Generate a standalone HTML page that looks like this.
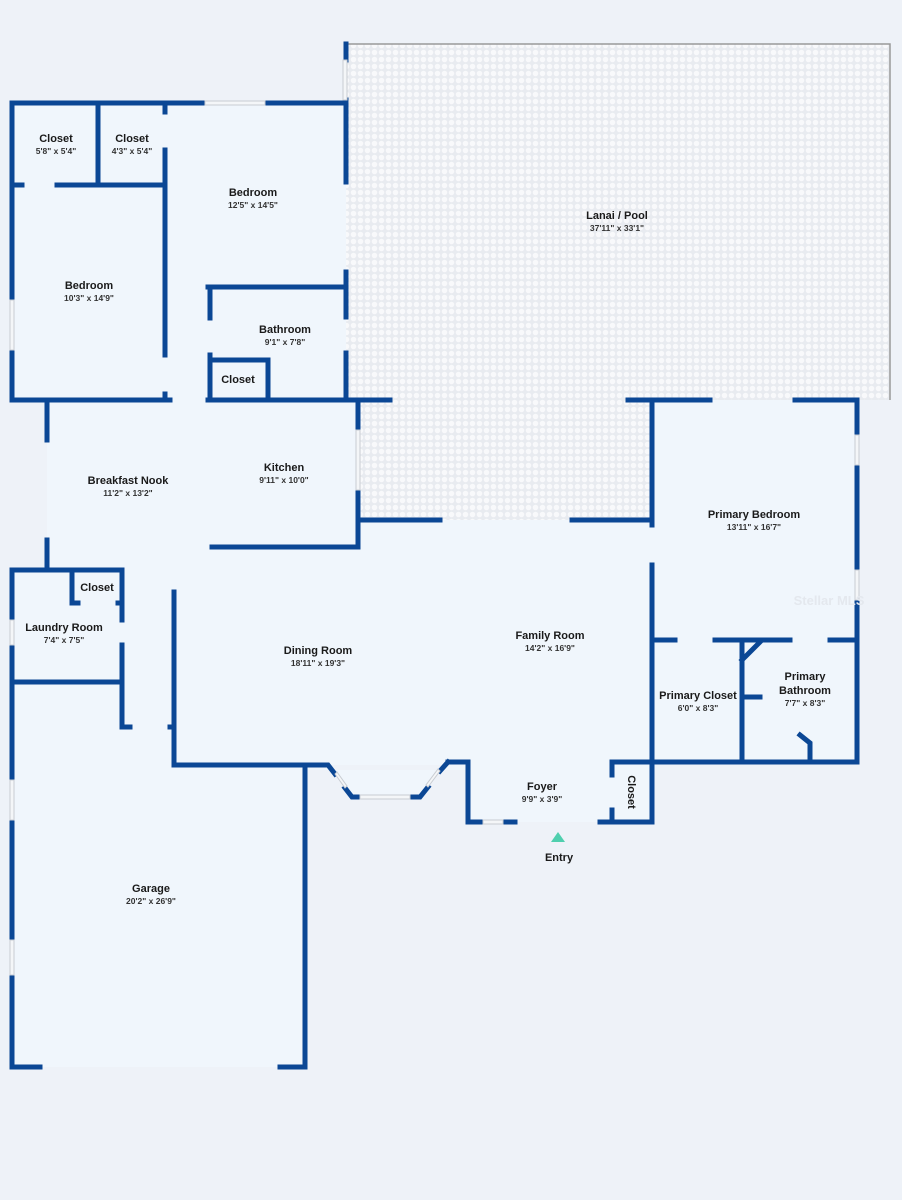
<!DOCTYPE html>
<html><head><meta charset="utf-8"><style>
html,body{margin:0;padding:0;background:#eef2f8;}
svg{display:block}
text{font-family:"Liberation Sans",sans-serif;fill:#1a1a1a;text-anchor:middle}
.t{font-size:11px;font-weight:bold}
.d{font-size:8.5px;font-weight:bold;fill:#333}
</style></head><body>
<svg width="902" height="1200" viewBox="0 0 902 1200" xmlns="http://www.w3.org/2000/svg">
<defs>
<pattern id="tile" width="7" height="7" patternUnits="userSpaceOnUse">
<rect width="7" height="7" fill="#e8ebf0"/>
<circle cx="3.5" cy="3.5" r="2.8" fill="#f8f9fb"/>
</pattern>
</defs>
<rect width="902" height="1200" fill="#eef2f8"/>
<path d="M346 44 H890 V400 H652 V520 H358 V400 H346 Z" fill="url(#tile)"/>
<path d="M346 44 H890 V400" fill="none" stroke="#999" stroke-width="1.5"/>
<g fill="#f0f6fc">
<rect x="12" y="103" width="334" height="297"/>
<rect x="47" y="400" width="311" height="170"/>
<rect x="12" y="570" width="162" height="110"/>
<rect x="174" y="520" width="478" height="245"/>
<rect x="122" y="570" width="60" height="160"/>
<rect x="12" y="680" width="293" height="387"/>
<rect x="652" y="400" width="205" height="362"/>
<rect x="470" y="760" width="185" height="62"/>
<polygon points="305,765 328,765 352,798 420,798 448,762 470,762 470,770 305,770"/>
</g>
<g stroke="#0b4795" stroke-width="5" fill="none" stroke-linecap="square">
<path d="M12 103 H205 M265 103 H346"/>
<path d="M12 103 V300 M12 350 V400"/>
<path d="M12 400 H170 M208 400 H390"/>
<path d="M98 103 V185"/>
<path d="M12 185 H22 M57 185 H165"/>
<path d="M165 103 V112 M165 150 V355 M165 394 V400"/>
<path d="M208 287 H346 M210 287 V318 M210 355 V400"/>
<path d="M210 360 H268 V400"/>
<path d="M346 44 V60 M346 100 V182 M346 272 V317 M346 353 V400"/>
<path d="M47 400 V440 M47 540 V570"/>
<path d="M358 400 V430 M358 490 V547 H212"/>
<path d="M358 520 H440 M572 520 H652"/>
<path d="M628 400 H710 M795 400 H857"/>
<path d="M857 400 V435 M857 465 V570 M857 600 V762"/>
<path d="M652 400 V525 M652 565 V822"/>
<path d="M652 640 H675 M715 640 H790 M830 640 H857"/>
<path d="M742 640 V762 M742 660 L760 642 M742 697 H760"/>
<path d="M612 762 H857"/>
<path d="M800 735 L810 743 V762"/>
<path d="M448 762 H468 V822 H483 M503 822 H515 M600 822 H652"/>
<path d="M612 762 V775 M612 810 V822"/>
<path d="M174 592 V765 H328 L335 774 M345 788 L352 797 H360 M410 797 H420 L428 787 M440 771 L448 762"/>
<path d="M47 570 H12 V780 M12 820 V940 M12 975 V1067"/>
<path d="M12 570 H122 V620 M122 645 V727 H130 M170 727 H174"/>
<path d="M72 570 V603 H78 M118 603 H122"/>
<path d="M12 682 H122"/>
<path d="M12 1067 H40 M280 1067 H305 V765"/>
</g>
<g stroke="#c8ccd2" stroke-width="1" fill="#f4f6f8">
<rect x="205" y="101" width="60" height="4"/>
<rect x="10" y="300" width="4" height="50"/>
<rect x="356" y="430" width="4" height="60"/>
<rect x="855" y="435" width="4" height="30"/>
<rect x="855" y="570" width="4" height="30"/>
<rect x="10" y="780" width="4" height="40"/>
<rect x="10" y="940" width="4" height="35"/>
<rect x="10" y="620" width="4" height="25"/>
<rect x="360" y="795" width="50" height="4"/>
<rect x="483" y="820" width="20" height="4"/>
<rect x="343" y="60" width="4" height="40"/>
<polygon points="335,774 345,788 347,786 337,772"/>
<polygon points="428,787 440,771 438,769 426,785"/>
</g>
<polygon points="558,832 551,842 565,842" fill="#4fcfae"/>
<text x="829" y="605" style="font-size:13px;font-weight:bold;fill:#e4e8ee">Stellar MLS</text>
<text class="t" x="56" y="142">Closet</text><text class="d" x="56" y="154">5'8" x 5'4"</text>
<text class="t" x="132" y="142">Closet</text><text class="d" x="132" y="154">4'3" x 5'4"</text>
<text class="t" x="253" y="196">Bedroom</text><text class="d" x="253" y="208">12'5" x 14'5"</text>
<text class="t" x="89" y="289">Bedroom</text><text class="d" x="89" y="301">10'3" x 14'9"</text>
<text class="t" x="285" y="333">Bathroom</text><text class="d" x="285" y="345">9'1" x 7'8"</text>
<text class="t" x="238" y="383">Closet</text>
<text class="t" x="617" y="219">Lanai / Pool</text><text class="d" x="617" y="231">37'11" x 33'1"</text>
<text class="t" x="128" y="484">Breakfast Nook</text><text class="d" x="128" y="496">11'2" x 13'2"</text>
<text class="t" x="284" y="471">Kitchen</text><text class="d" x="284" y="483">9'11" x 10'0"</text>
<text class="t" x="754" y="518">Primary Bedroom</text><text class="d" x="754" y="530">13'11" x 16'7"</text>
<text class="t" x="97" y="591">Closet</text>
<text class="t" x="64" y="631">Laundry Room</text><text class="d" x="64" y="643">7'4" x 7'5"</text>
<text class="t" x="550" y="639">Family Room</text><text class="d" x="550" y="651">14'2" x 16'9"</text>
<text class="t" x="318" y="654">Dining Room</text><text class="d" x="318" y="666">18'11" x 19'3"</text>
<text class="t" x="698" y="699">Primary Closet</text><text class="d" x="698" y="711">6'0" x 8'3"</text>
<text class="t" x="805" y="680">Primary</text><text class="t" x="805" y="694">Bathroom</text><text class="d" x="805" y="706">7'7" x 8'3"</text>
<text class="t" x="542" y="790">Foyer</text><text class="d" x="542" y="802">9'9" x 3'9"</text>
<text class="t" transform="translate(628,792) rotate(90)">Closet</text>
<text class="t" x="559" y="861">Entry</text>
<text class="t" x="151" y="892">Garage</text><text class="d" x="151" y="904">20'2" x 26'9"</text>
</svg>
</body></html>
